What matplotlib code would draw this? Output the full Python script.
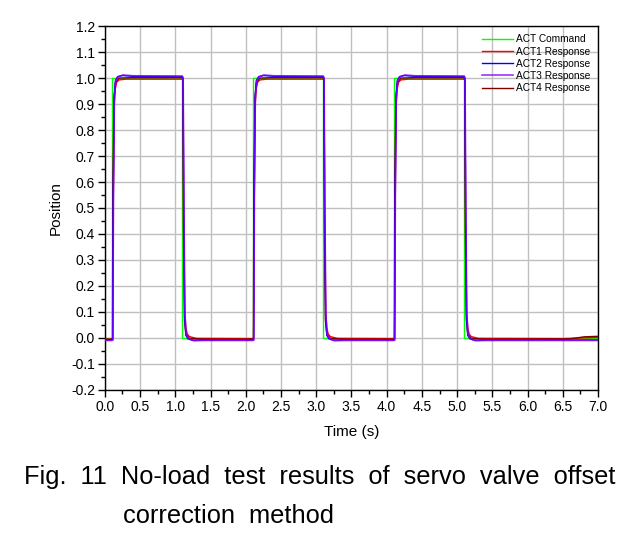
import matplotlib
matplotlib.use("Agg")
import matplotlib.pyplot as plt
from matplotlib.ticker import MultipleLocator

plt.rcParams['font.family'] = ['Liberation Sans', 'DejaVu Sans']

# command square wave
cmd_t = [0.0, 0.1, 0.1, 1.1, 1.1, 2.1, 2.1, 3.1, 3.1, 4.1, 4.1, 5.1, 5.1, 7.0]
cmd_y = [0.0, 0.0, 1.0, 1.0, 0.0, 0.0, 1.0, 1.0, 0.0, 0.0, 1.0, 1.0, 0.0, 0.0]

# responses (time, position)
act1 = [(0.00, -0.005), (0.10, -0.005), (0.112, -0.004), (0.12, 0.50), (0.135, 0.90), (0.15, 0.96),
        (0.17, 0.985), (0.20, 0.993), (0.30, 0.996), (1.10, 0.996), (1.112, 0.99), (1.12, 0.50),
        (1.135, 0.10), (1.15, 0.04), (1.17, 0.015), (1.20, 0.005), (1.30, -0.002), (2.10, -0.003),
        (2.112, -0.002), (2.12, 0.50), (2.135, 0.90), (2.15, 0.96), (2.17, 0.985), (2.20, 0.993),
        (2.30, 0.996), (3.10, 0.996), (3.112, 0.99), (3.12, 0.50), (3.135, 0.10), (3.15, 0.04),
        (3.17, 0.015), (3.20, 0.005), (3.30, -0.002), (4.10, -0.003), (4.112, -0.002), (4.12, 0.50),
        (4.135, 0.90), (4.15, 0.96), (4.17, 0.985), (4.20, 0.993), (4.30, 0.996), (5.10, 0.996),
        (5.112, 0.99), (5.12, 0.50), (5.135, 0.10), (5.15, 0.04), (5.17, 0.015), (5.20, 0.005),
        (5.30, -0.002), (6.50, -0.003), (7.00, 0.002)]

act2 = [(0.00, -0.008), (0.10, -0.008), (0.112, -0.007), (0.12, 0.55), (0.133, 0.93), (0.15, 0.99),
        (0.18, 1.005), (0.25, 1.010), (0.40, 1.007), (1.10, 1.006), (1.11, 1.00), (1.12, 0.50),
        (1.133, 0.08), (1.15, 0.01), (1.18, -0.004), (1.25, -0.009), (1.40, -0.008), (2.10, -0.008),
        (2.112, -0.007), (2.12, 0.55), (2.133, 0.93), (2.15, 0.99), (2.18, 1.005), (2.25, 1.010),
        (2.40, 1.007), (3.10, 1.006), (3.11, 1.00), (3.12, 0.50), (3.133, 0.08), (3.15, 0.01),
        (3.18, -0.004), (3.25, -0.009), (3.40, -0.008), (4.10, -0.008), (4.112, -0.007), (4.12, 0.55),
        (4.133, 0.93), (4.15, 0.99), (4.18, 1.005), (4.25, 1.010), (4.40, 1.007), (5.10, 1.006),
        (5.11, 1.00), (5.12, 0.50), (5.133, 0.08), (5.15, 0.01), (5.18, -0.004), (5.25, -0.009),
        (5.40, -0.008), (7.00, -0.008)]

act3 = [(0.00, -0.010), (0.10, -0.010), (0.114, -0.009), (0.123, 0.55), (0.136, 0.92), (0.155, 0.99),
        (0.19, 1.006), (0.26, 1.012), (0.40, 1.009), (1.10, 1.008), (1.112, 1.00), (1.123, 0.50),
        (1.137, 0.09), (1.155, 0.015), (1.19, -0.004), (1.26, -0.011), (1.40, -0.010), (2.10, -0.010),
        (2.114, -0.009), (2.123, 0.55), (2.136, 0.92), (2.155, 0.99), (2.19, 1.006), (2.26, 1.012),
        (2.40, 1.009), (3.10, 1.008), (3.112, 1.00), (3.123, 0.50), (3.137, 0.09), (3.155, 0.015),
        (3.19, -0.004), (3.26, -0.011), (3.40, -0.010), (4.10, -0.010), (4.114, -0.009), (4.123, 0.55),
        (4.136, 0.92), (4.155, 0.99), (4.19, 1.006), (4.26, 1.012), (4.40, 1.009), (5.10, 1.008),
        (5.112, 1.00), (5.123, 0.50), (5.137, 0.09), (5.155, 0.015), (5.19, -0.004), (5.26, -0.011),
        (5.40, -0.010), (7.00, -0.010)]

act4 = [(0.00, -0.005), (0.10, -0.005), (0.108, -0.004), (0.115, 0.60), (0.13, 0.92), (0.15, 0.98),
        (0.20, 1.000), (0.40, 1.002), (1.10, 1.002), (1.108, 0.99), (1.115, 0.45), (1.13, 0.07),
        (1.15, 0.015), (1.20, -0.002), (1.40, -0.005), (2.10, -0.005), (2.108, -0.004), (2.115, 0.60),
        (2.13, 0.92), (2.15, 0.98), (2.20, 1.000), (2.40, 1.002), (3.10, 1.002), (3.108, 0.99),
        (3.115, 0.45), (3.13, 0.07), (3.15, 0.015), (3.20, -0.002), (3.40, -0.005), (4.10, -0.005),
        (4.108, -0.004), (4.115, 0.60), (4.13, 0.92), (4.15, 0.98), (4.20, 1.000), (4.40, 1.002),
        (5.10, 1.002), (5.108, 0.99), (5.115, 0.45), (5.13, 0.07), (5.15, 0.015), (5.20, -0.002),
        (5.40, -0.005), (6.60, -0.004), (6.80, 0.004), (7.00, 0.006)]

labels = ["ACT Command", "ACT1 Response", "ACT2 Response", "ACT3 Response", "ACT4 Response"]
colors = ["#00ff00", "#ff0000", "#0000ff", "#8000ff", "#800000"]

fig = plt.figure(figsize=(6.39, 5.34), dpi=100)
ax = fig.add_axes([0.164, 0.270, 0.772, 0.681])

h0, = ax.plot(cmd_t, cmd_y, color=colors[0], lw=1.0, zorder=2)
h1, = ax.plot(*zip(*act1), color=colors[1], lw=1.0, zorder=3)
h4, = ax.plot(*zip(*act4), color=colors[4], lw=1.0, zorder=4)
h2, = ax.plot(*zip(*act2), color=colors[2], lw=1.0, zorder=5)
h3, = ax.plot(*zip(*act3), color=colors[3], lw=1.2, alpha=0.8, zorder=6)

ax.set_xlim(0, 7.0)
ax.set_ylim(-0.2, 1.2)
ax.xaxis.set_major_locator(MultipleLocator(0.5))
ax.xaxis.set_minor_locator(MultipleLocator(0.25))
ax.yaxis.set_major_locator(MultipleLocator(0.1))
ax.yaxis.set_minor_locator(MultipleLocator(0.05))
ax.xaxis.set_major_formatter(plt.FuncFormatter(lambda v, p: f"{v:.1f}"))
ax.yaxis.set_major_formatter(plt.FuncFormatter(lambda v, p: f"{v:.1f}"))
ax.grid(True, which='major', color='#c0c0c0', lw=1.0)
ax.set_axisbelow(True)
ax.tick_params(which='major', direction='out', length=5, width=1, labelsize=10, pad=2)
ax.tick_params(which='minor', direction='out', length=3, width=1)
for s in ax.spines.values():
    s.set_linewidth(1.0)

ax.set_xlabel("Time (s)", fontsize=11, labelpad=8)
ax.set_ylabel("Position", fontsize=11, labelpad=6)

leg = ax.legend([h0, h1, h2, h3, h4], labels, loc='upper right', frameon=False,
                fontsize=7.3, handlelength=3.0, handletextpad=0.3, labelspacing=0.22,
                borderaxespad=0.4)

fig.text(0.037, 0.106, "Fig.  11  No-load  test  results  of  servo  valve  offset",
         fontsize=18.3, va='center')
fig.text(0.192, 0.033, "correction  method",
         fontsize=18.3, va='center')

fig.savefig("out.png", dpi=100)
